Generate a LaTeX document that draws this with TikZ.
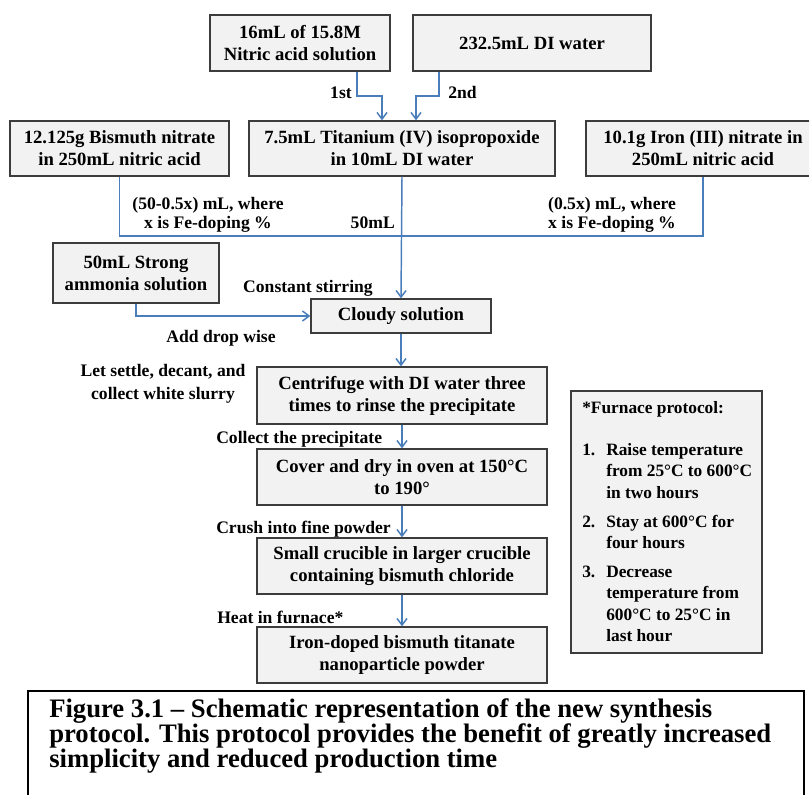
\documentclass[tikz,border=0pt]{standalone}
\usepackage{fontspec}
\setmainfont{Liberation Serif}
\usetikzlibrary{arrows.meta,shadows}
\definecolor{boxfill}{HTML}{F2F2F2}
\definecolor{boxline}{HTML}{3C3C3C}
\definecolor{flow}{HTML}{4A7EBB}
\tikzset{
  sz/.style 2 args={minimum width=#1*0.75pt, minimum height=#2*0.75pt},
  stepbox/.style={draw=boxline, fill=boxfill, line width=1pt, inner sep=0pt, align=center,
    font=\bfseries\fontsize{14}{16.5}\selectfont,
    drop shadow={shadow xshift=1pt, shadow yshift=-1pt, fill=black!45, opacity=0.8}},
  lbl/.style={font=\bfseries\fontsize{13.2}{15.5}\selectfont, inner sep=0pt},
  flbl/.style={font=\bfseries\fontsize{13}{15.5}\selectfont, inner sep=0pt, anchor=base west},
  caplbl/.style={font=\bfseries\fontsize{20}{19}\selectfont, inner sep=0pt, anchor=base west},
  flowline/.style={draw=flow, line width=1.1pt},
  flowarrow/.style={flowline, -{Straight Barb[length=5pt,width=7.5pt]}},
}
\begin{document}
\begin{tikzpicture}[x=0.75pt, y=-0.75pt]
\useasboundingbox (0,0) rectangle (809,794);
\clip (0,0) rectangle (809,794);

% boxes
\node[stepbox, sz={180}{56}] (b1) at (300,43) {16mL of 15.8M\\Nitric acid solution};
\node[stepbox, sz={238}{56}] (b2) at (532,43) {232.5mL DI water};
\node[stepbox, sz={219}{55}] (bi) at (119.5,148.5) {12.125g Bismuth nitrate\\in 250mL nitric acid};
\node[stepbox, sz={306}{55}] (ti) at (402,148.5) {7.5mL Titanium (IV) isopropoxide\\in 10mL DI water};
\node[stepbox, sz={234}{55}] (fe) at (703,148.5) {10.1g Iron (III) nitrate in\\250mL nitric acid};
\node[stepbox, sz={166}{60}] (am) at (136,273) {50mL Strong\\ammonia solution};
\node[stepbox, sz={180}{34}] (cl) at (401,316) {Cloudy solution};
\node[stepbox, sz={290}{57}] (ce) at (402,395.5) {Centrifuge with DI water three\\times to rinse the precipitate};
\node[stepbox, sz={290}{56}] (co) at (402,477) {Cover and dry in oven at 150°C\\to 190°};
\node[stepbox, sz={290}{56}] (sm) at (402,566) {Small crucible in larger crucible\\containing bismuth chloride};
\node[stepbox, sz={290}{56}] (ir) at (402,655) {Iron-doped bismuth titanate\\nanoparticle powder};
\node[stepbox, sz={191}{262}] (fu) at (666.5,522) {};

% connectors
\coordinate (j1) at (357,96);
\coordinate (k1) at (382,96);
\coordinate (j2) at (439,96);
\coordinate (k2) at (416,96);
\coordinate (mx) at (401,236);
\draw[flowarrow] (b1.south -| j1) -- (j1) -- (k1) -- (ti.north -| k1);
\draw[flowarrow] (b2.south -| j2) -- (j2) -- (k2) -- (ti.north -| k2);
\draw[flowline] (bi.south) |- (fe.south |- mx) -- (fe.south);
\draw[flowarrow] (ti.south) -- (cl.north);
\draw[flowarrow] (am.south) |- (cl.west);
\draw[flowarrow] (cl.south) -- (ce.north -| cl.south);
\draw[flowarrow] (ce.south) -- (co.north);
\draw[flowarrow] (co.south) -- (sm.north);
\draw[flowarrow] (sm.south) -- (ir.north);

% labels
\node[lbl, anchor=base east] (l1) at (352,98) {1st};
\node[lbl, anchor=base west] (l2) at (448,98) {2nd};
\node[lbl, anchor=base] (l3a) at (208,209) {(50-0.5x) mL, where};
\node[lbl, anchor=base] (l3b) at (208,228) {x is Fe-doping \%};
\node[lbl, anchor=base east] (l4) at (395,228) {50mL};
\node[lbl, anchor=base] (l5a) at (612,209) {(0.5x) mL, where};
\node[lbl, anchor=base] (l5b) at (612,228) {x is Fe-doping \%};
\node[lbl, anchor=base] (l6) at (308,292) {Constant stirring};
\node[lbl, anchor=base] (l7) at (221,342) {Add drop wise};
\node[lbl, anchor=base] (l8a) at (163,376) {Let settle, decant, and};
\node[lbl, anchor=base] (l8b) at (163,399) {collect white slurry};
\node[lbl, anchor=base west] (l9) at (216,443) {Collect the precipitate};
\node[lbl, anchor=base west] (l10) at (216,533) {Crush into fine powder};
\node[lbl, anchor=base west] (l11) at (217,623) {Heat in furnace*};

% furnace protocol text
\node[flbl] (f0) at (582,413) {*Furnace protocol:};
\node[flbl] (f1n) at (582,455) {1.};
\node[flbl] (f1a) at (606,455) {Raise temperature};
\node[flbl] (f1b) at (606,476) {from 25°C to 600°C};
\node[flbl] (f1c) at (606,498) {in two hours};
\node[flbl] (f2n) at (582,527) {2.};
\node[flbl] (f2a) at (606,527) {Stay at 600°C for};
\node[flbl] (f2b) at (606,548) {four hours};
\node[flbl] (f3n) at (582,577) {3.};
\node[flbl] (f3a) at (606,577) {Decrease};
\node[flbl] (f3b) at (606,598) {temperature from};
\node[flbl] (f3c) at (606,620) {600°C to 25°C in};
\node[flbl] (f3d) at (606,641) {last hour};

% caption
\node[draw=black, line width=1.5pt, sz={776}{140}, anchor=north west, inner sep=0pt] (cap) at (27,690) {};
\node[caplbl] (c1) at (49,717) {Figure 3.1 – Schematic representation of the new synthesis};
\node[caplbl] (c2) at (49,742) {protocol. This protocol provides the benefit of greatly increased};
\node[caplbl] (c3) at (49,767) {simplicity and reduced production time};
\end{tikzpicture}
\end{document}
